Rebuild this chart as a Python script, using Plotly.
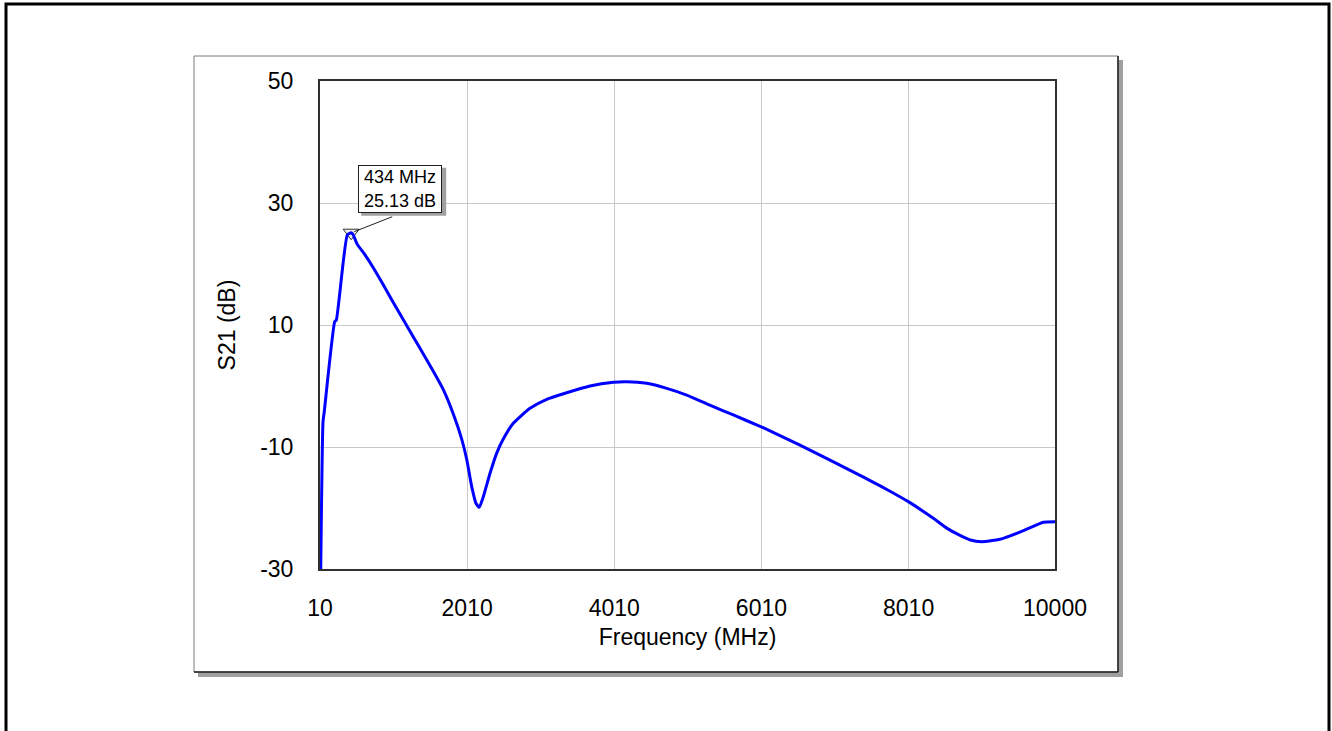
import plotly.graph_objects as go

# Measured transmission S21 of the amplifier, 10 MHz .. 10 GHz
freq_mhz = [20, 51, 68, 210, 232, 381, 434, 463, 513, 622, 734, 870, 1006,
            1188, 1369, 1550, 1686, 1822, 1936, 2004, 2072, 2130, 2175, 2230,
            2321, 2412, 2501, 2637, 2864, 3091, 3363, 3680, 3997, 4179, 4451,
            4723, 4994, 5356, 5628, 5968, 6126, 6534, 6942, 7350, 7486, 7758,
            8012, 8346, 8528, 8709, 8850, 9004, 9253, 9570, 9842, 10000]
s21_db = [-30.0, -5.85, -4.21, 10.54, 10.82, 24.75, 25.13, 24.75, 23.3, 21.5,
          19.4, 16.6, 13.7, 9.9, 6.2, 2.4, -0.6, -4.6, -8.7, -12.0,
          -16.5, -19.23, -19.89, -18.15, -14.31, -11.0, -8.7, -6.11, -3.66,
          -2.18, -1.10, 0.0, 0.61, 0.70, 0.44, -0.38, -1.48, -3.39, -4.75,
          -6.5, -7.35, -9.7, -12.15, -14.65, -15.5, -17.25, -19.0, -21.69,
          -23.3, -24.5, -25.25, -25.52, -25.13, -23.72, -22.34, -22.25]

# Marker readout
marker_freq = 434
marker_db = 25.13

x_ticks = [10, 2010, 4010, 6010, 8010, 10000]
y_ticks = [-30, -10, 10, 30, 50]

W, H = 1332, 731
PL, PR, PT, PB = 320, 1055, 81, 569
FONT = "Liberation Sans, Arial, sans-serif"


def fx(p):
    return (p - PL) / (PR - PL)


def fy(p):
    return (PB - p) / (PB - PT)


fig = go.Figure()
# marker symbol goes underneath the trace
fig.add_trace(go.Scatter(
    x=[marker_freq], y=[marker_db], mode="markers",
    marker=dict(symbol="triangle-down", size=14, color="#f2f2f2",
                line=dict(width=1, color="#303030")),
    hoverinfo="skip", showlegend=False,
))
fig.add_trace(go.Scatter(
    x=freq_mhz, y=s21_db, mode="lines",
    line=dict(color="#0000ff", width=3, shape="spline", smoothing=0.5),
    hoverinfo="skip", showlegend=False,
))

shapes = [
    # outer frame
    dict(type="rect", xref="paper", yref="paper",
         x0=fx(6), x1=fx(1329), y0=fy(4), y1=fy(760),
         line=dict(color="black", width=3), layer="below"),
    # panel drop shadow
    dict(type="rect", xref="paper", yref="paper",
         x0=fx(198), x1=fx(1123), y0=fy(60), y1=fy(677),
         fillcolor="#a0a0a0", line=dict(width=0), layer="below"),
    # panel
    dict(type="rect", xref="paper", yref="paper",
         x0=fx(194), x1=fx(1118), y0=fy(56), y1=fy(672),
         fillcolor="white", line=dict(color="#7a7a7a", width=1), layer="below"),
    dict(type="line", xref="paper", yref="paper",
         x0=fx(1118), x1=fx(1118), y0=fy(56), y1=fy(672),
         line=dict(color="#202020", width=1.5), layer="below"),
    dict(type="line", xref="paper", yref="paper",
         x0=fx(194), x1=fx(1118), y0=fy(672), y1=fy(672),
         line=dict(color="#202020", width=1.5), layer="below"),
    # leader from marker to readout box
    dict(type="line", xref="x", yref="y",
         xsizemode="pixel", ysizemode="pixel",
         xanchor=marker_freq, yanchor=marker_db,
         x0=3, y0=1, x1=41, y1=16,
         line=dict(color="#202020", width=1)),
    # readout box shadow
    dict(type="rect", xref="x", yref="y",
         xsizemode="pixel", ysizemode="pixel",
         xanchor=marker_freq, yanchor=marker_db,
         x0=10, x1=95, y0=17, y1=65,
         fillcolor="#a0a0a0", line=dict(width=0)),
]

label = f"{marker_freq} MHz<br>{marker_db:.2f} dB"
annotations = [
    dict(x=marker_freq, y=marker_db, xref="x", yref="y",
         showarrow=False, xanchor="left", yanchor="bottom",
         xshift=7, yshift=20, width=78, height=42, align="center",
         borderpad=2, borderwidth=1, bgcolor="white", bordercolor="#202020",
         text=label, font=dict(family=FONT, size=18, color="black")),
]

axis_common = dict(
    showgrid=True, gridcolor="#c8c8c8", gridwidth=1,
    showline=True, linecolor="#303030", linewidth=2, mirror=True,
    zeroline=False, ticks="", tickfont=dict(family=FONT, size=23, color="black"),
)

fig.update_layout(
    width=W, height=H,
    margin=dict(l=PL, r=W - PR, t=PT, b=H - PB),
    paper_bgcolor="white", plot_bgcolor="white",
    xaxis=dict(axis_common, range=[10, 10000], tickvals=x_ticks,
               ticktext=[str(v) for v in x_ticks], ticklabelstandoff=17,
               title=dict(text="Frequency (MHz)", standoff=9,
                          font=dict(family=FONT, size=23, color="black"))),
    yaxis=dict(axis_common, range=[-30, 50], tickvals=y_ticks,
               ticktext=[str(v) for v in y_ticks], ticklabelstandoff=20,
               title=dict(text="S21 (dB)", standoff=18,
                          font=dict(family=FONT, size=23, color="black"))),
    shapes=shapes,
    annotations=annotations,
    showlegend=False,
)

fig.write_html("out.html")
